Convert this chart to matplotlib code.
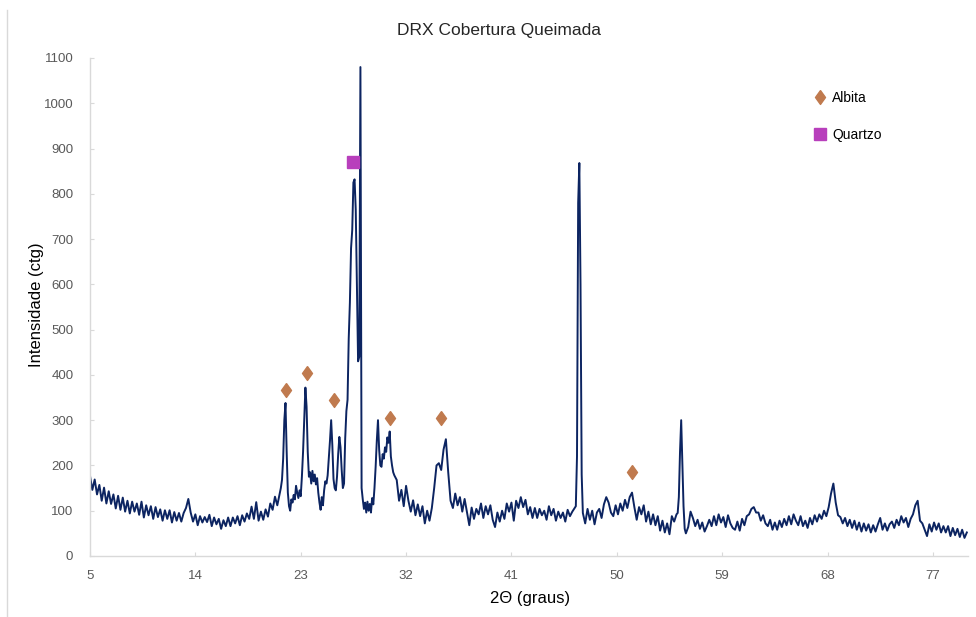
import numpy as np
import matplotlib
matplotlib.use("Agg")
import matplotlib.pyplot as plt
from matplotlib.lines import Line2D

plt.rcParams['font.family'] = ['Liberation Sans', 'DejaVu Sans']

# Diffractogram, split in pieces: (first 2theta, step, counts)
bg1_start, bg1_step = 5.0, 0.2
bg1 = [177, 146, 169, 136, 157, 122, 151, 116, 143, 115,
       136, 105, 133, 102, 129, 98, 122, 94, 120, 98,
       116, 91, 120, 85, 112, 90, 110, 82, 108, 86,
       103, 78, 101, 82, 101, 74, 97, 78, 95, 76,
       95, 106, 126, 96, 76, 92, 68, 88, 74, 86,
       75, 91, 66, 85, 70, 82, 60, 79, 66, 85,
       66, 85, 72, 88, 68, 90, 76, 94, 82, 109,
       82, 119, 78, 98, 80, 103, 87, 116, 102, 131,
       112, 138]

peaks1_start, peaks1_step = 21.3, 0.1
peaks1 = [150, 168, 215, 300, 338, 230, 140, 110, 100, 125,
          118, 135, 125, 155, 140, 128, 145, 132, 175, 230,
          300, 372, 330, 230, 175, 185, 160, 188, 165, 180,
          158, 172, 140, 118, 102, 130, 112, 145, 165, 160,
          178, 215, 255, 300, 245, 170, 150, 145, 175, 225,
          263, 240, 190, 150, 160, 260, 320, 345, 480, 560,
          680, 720, 825, 832, 765, 600, 430, 440, 1080, 150,
          125, 104, 118, 96, 120, 100, 115, 96, 128, 114,
          150, 197, 255, 300, 235, 200, 197, 225, 215, 240,
          230, 262, 250, 275, 220, 200, 185, 178]

bg2_start, bg2_step = 31.2, 0.2
bg2 = [168, 122, 146, 110, 155, 122, 98, 123, 90, 114,
       88, 110, 72, 100, 78, 106, 150, 200, 205, 190,
       235, 258, 185, 122, 106, 138, 112, 130, 98, 126,
       97, 68, 107, 82, 104, 92, 116, 84, 110, 92,
       112, 80, 64, 96, 76, 100, 82, 116, 98, 118,
       78, 122, 106, 130, 108, 124, 92, 108, 84, 106,
       84, 104, 90, 100, 80, 110, 90, 104, 78, 98,
       84, 96, 76, 102, 88, 98, 106]

peak2_start, peak2_step = 46.5, 0.1
peak2 = [110, 220, 780, 868, 600, 180, 95]

bg3_start, bg3_step = 47.3, 0.2
bg3 = [72, 104, 80, 100, 70, 96, 104, 84, 114, 130,
       118, 96, 88, 112, 92, 116, 100, 124, 106, 130,
       140, 108, 80, 108, 92, 112, 76, 98, 70, 92,
       68, 88, 56, 78, 52, 72, 48, 88, 76, 92]

peak3_start, peak3_step = 55.2, 0.1
peak3 = [95, 130, 230, 300, 205, 110, 60, 50]

bg4_start, bg4_step = 56.1, 0.2
bg4 = [64, 98, 84, 66, 80, 60, 74, 54, 66, 80,
       66, 88, 68, 92, 74, 86, 64, 90, 72, 62,
       58, 76, 56, 82, 68, 88, 92, 104, 108, 96,
       96, 78, 90, 72, 66, 80, 58, 74, 58, 78,
       64, 82, 68, 88, 70, 92, 78, 68, 88, 66,
       78, 62, 84, 70, 90, 76, 92, 82, 100, 88,
       108, 138, 160, 118, 90, 86, 72, 84, 66, 80,
       62, 78, 58, 74, 54, 72, 56, 70, 52, 68,
       54, 70, 84, 58, 72, 56, 70, 76, 62, 80,
       68, 88, 74, 84, 64, 82, 92, 112, 122, 78,
       72, 58, 44, 70, 54, 74, 58, 72, 52, 66,
       52, 66, 44, 62, 46, 60, 42, 58, 40, 52]

# phase markers
albita_x = [21.7, 23.5, 25.85, 30.65, 34.95, 51.3]
albita_y = [367, 404, 345, 305, 305, 185]
quartzo_x = [27.45]
quartzo_y = [871]

x_ticks = [5, 14, 23, 32, 41, 50, 59, 68, 77]
y_ticks = list(range(0, 1101, 100))

pieces = [(bg1_start, bg1_step, bg1), (peaks1_start, peaks1_step, peaks1),
          (bg2_start, bg2_step, bg2), (peak2_start, peak2_step, peak2),
          (bg3_start, bg3_step, bg3), (peak3_start, peak3_step, peak3),
          (bg4_start, bg4_step, bg4)]
two_theta = np.concatenate([s + st * np.arange(len(v)) for s, st, v in pieces])
counts = np.concatenate([np.array(v, dtype=float) for s, st, v in pieces])

fig = plt.figure(figsize=(9.76, 6.17), dpi=100)
ax = fig.add_axes([90 / 976, 1 - 556 / 617, 878 / 976, 498 / 617])

ax.plot(two_theta, counts, color='#0c2461', lw=1.4, zorder=2)

diamond = [(0, 1), (0.72, 0), (0, -1), (-0.72, 0), (0, 1)]
ax.plot(albita_x, albita_y, ls='none', marker=diamond, ms=10,
        color='#c07a4e', zorder=3)
ax.plot(quartzo_x, quartzo_y, ls='none', marker='s', ms=8,
        color='#b83fbc', zorder=3)

ax.set_xlim(5, 80)
ax.set_ylim(0, 1100)
ax.set_xticks(x_ticks)
ax.set_yticks(y_ticks)
ax.tick_params(direction='in', length=3, color='#d9d9d9', labelcolor='#595959',
               labelsize=9.5)
ax.tick_params(axis='x', pad=10)
ax.tick_params(axis='y', pad=12)
for side in ['top', 'right']:
    ax.spines[side].set_visible(False)
for side in ['left', 'bottom']:
    ax.spines[side].set_color('#d9d9d9')
    ax.spines[side].set_linewidth(1.0)

fig.text(499 / 976, 1 - 30 / 617, 'DRX Cobertura Queimada', ha='center',
         va='center', fontsize=12.5, color='#262626')
fig.text(530 / 976, 1 - 599 / 617, '2Θ (graus)', ha='center', va='center',
         fontsize=12, color='black')
fig.text(36 / 976, 1 - 305 / 617, 'Intensidade (ctg)', ha='center', va='center',
         rotation=90, fontsize=12, color='black')

handles = [Line2D([], [], ls='none', marker=diamond, ms=10, color='#c07a4e'),
           Line2D([], [], ls='none', marker='s', ms=8, color='#b83fbc')]
fig.legend(handles, ['Albita', 'Quartzo'], loc='upper left',
           bbox_to_anchor=(806 / 976, 1 - 84 / 617), frameon=False,
           fontsize=10, handlelength=1.0, handletextpad=0.4,
           labelspacing=1.65, borderpad=0)

fig.add_artist(Line2D([7 / 976, 7 / 976], [0, 1 - 10 / 617],
                      color='#d9d9d9', lw=1.0))

fig.savefig('out.png', dpi=100)
